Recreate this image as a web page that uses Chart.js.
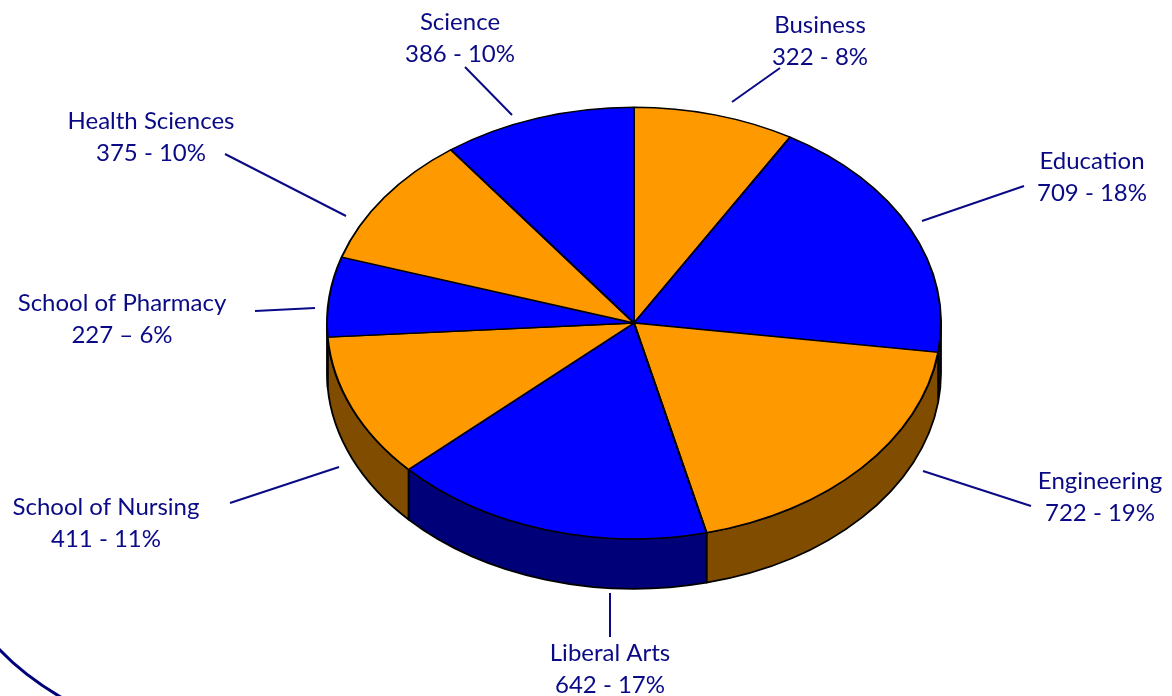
<!DOCTYPE html>
<html>
<head>
<meta charset="utf-8">
<script src="https://cdn.jsdelivr.net/npm/chart.js@4"></script>
<style>
  html, body { margin: 0; padding: 0; background: #fff; }
  #chart { display: block; }
</style>
</head>
<body>
<canvas id="chart" width="1172" height="696"></canvas>
<script>
// data
const categories = ['Business', 'Education', 'Engineering', 'Liberal Arts',
  'School of Nursing', 'School of Pharmacy', 'Health Sciences', 'Science'];
const counts = [322, 709, 722, 642, 411, 227, 375, 386];
const percents = [8, 18, 19, 17, 11, 6, 10, 10];
const dashes = ['-', '-', '-', '-', '-', '\u2013', '-', '-'];

// colours: top face and side wall
const topColors = ['#FF9900', '#0000FF', '#FF9900', '#0000FF', '#FF9900', '#0000FF', '#FF9900', '#0000FF'];
const sideColors = ['#7F4C00', '#000078', '#7F4C00', '#000078', '#7F4C00', '#000078', '#7F4C00', '#000078'];

const TILT = 0.703;     // vertical squash of the pie
const DEPTH = 50;       // height of the side wall
const TEXT_COLOR = '#0A0A86';

// where each label sits (caps middle of first line) + its leader line
const labelLayout = [
  { x: 820, y: 24, line: [780, 68, 732, 102] },
  { x: 1092, y: 160, line: [1024, 186, 922, 221] },
  { x: 1100, y: 480, line: [1031, 506, 923, 471] },
  { x: 610, y: 652, line: [610, 593, 610, 637] },
  { x: 106, y: 506, line: [230, 503, 339, 467] },
  { x: 122, y: 302, line: [255, 311, 315, 308] },
  { x: 151, y: 120, line: [225, 154, 346, 216] },
  { x: 460, y: 21, line: [465, 67, 512, 115] }
];

// draws the side walls and squashes the pie into an ellipse
const pie3d = {
  id: 'pie3d',
  beforeDatasetsDraw(chart) {
    const ctx = chart.ctx;
    const arcs = chart.getDatasetMeta(0).data;
    const c = arcs[0].getProps(['x', 'y', 'outerRadius'], true);
    const rx = c.outerRadius;
    const ry = rx * TILT;

    ctx.save();
    ctx.lineWidth = 1.8;
    ctx.strokeStyle = '#000';
    ctx.lineJoin = 'round';
    arcs.forEach((arc, i) => {
      const p = arc.getProps(['startAngle', 'endAngle'], true);
      // only the front half (0..PI) of the wall is visible
      const a = Math.max(p.startAngle, 0);
      const b = Math.min(p.endAngle, Math.PI);
      if (b <= a) return;
      ctx.beginPath();
      ctx.ellipse(c.x, c.y, rx, ry, 0, a, b);
      ctx.ellipse(c.x, c.y + DEPTH, rx, ry, 0, b, a, true);
      ctx.closePath();
      ctx.fillStyle = sideColors[i];
      ctx.fill();
      ctx.stroke();
    });

    // top face: squash the library's circle into an ellipse
    ctx.translate(c.x, c.y);
    ctx.scale(1, TILT);
    ctx.translate(-c.x, -c.y);
  },
  afterDatasetsDraw(chart) {
    chart.ctx.restore();
  }
};

// labels with leader lines, plus the corner of the frame
const pieLabels = {
  id: 'pieLabels',
  afterDraw(chart) {
    const ctx = chart.ctx;
    ctx.save();
    ctx.strokeStyle = TEXT_COLOR;
    ctx.fillStyle = TEXT_COLOR;
    ctx.lineWidth = 2;
    ctx.font = '24px Lato';
    ctx.textAlign = 'center';
    ctx.textBaseline = 'alphabetic';
    categories.forEach((name, i) => {
      const p = labelLayout[i];
      ctx.beginPath();
      ctx.moveTo(p.line[0], p.line[1]);
      ctx.lineTo(p.line[2], p.line[3]);
      ctx.stroke();
      ctx.fillText(name, p.x, p.y + 8.5);
      ctx.fillText(counts[i] + ' ' + dashes[i] + ' ' + percents[i] + '%', p.x, p.y + 40.5);
    });

    // rounded frame corner, bottom left
    ctx.lineWidth = 3;
    ctx.strokeStyle = '#00007A';
    ctx.beginPath();
    ctx.moveTo(-2, 648);
    ctx.quadraticCurveTo(24, 676, 64, 699);
    ctx.stroke();
    ctx.restore();
  }
};

const chart = new Chart(document.getElementById('chart').getContext('2d'), {
  type: 'pie',
  data: {
    labels: categories,
    datasets: [{
      data: counts,
      backgroundColor: topColors,
      borderColor: '#000',
      borderWidth: 2,
      radius: 307,
      clip: false
    }]
  },
  options: {
    responsive: false,
    animation: false,
    events: [],
    layout: {
      padding: { left: 96, right: 0, top: 0, bottom: 50 }
    },
    plugins: {
      legend: { display: false },
      tooltip: { enabled: false }
    }
  },
  plugins: [pie3d, pieLabels]
});
</script>
</body>
</html>
